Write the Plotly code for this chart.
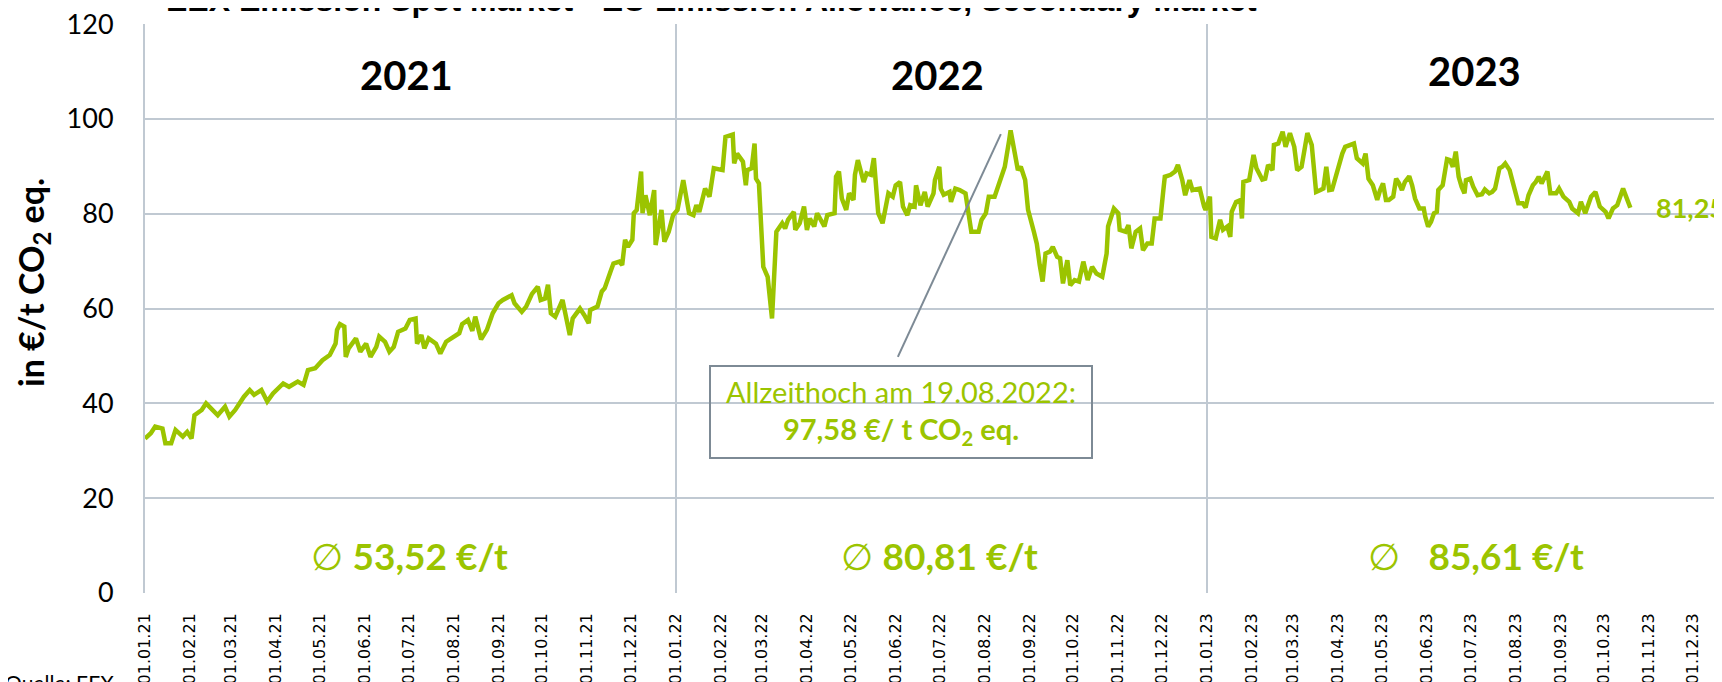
import plotly.graph_objects as go

# ---------------- data ----------------
days_2021 = ["01-01","01-05","01-08","01-13","01-15","01-19","01-22","01-27","01-30",
             "02-02","02-04","02-09","02-12","02-20","02-25","02-28",
             "03-04","03-10","03-14","03-17","03-22","03-26","03-30",
             "04-06","04-10","04-16","04-20","04-23","04-28",
             "05-03","05-08","05-12","05-13","05-15","05-18","05-19","05-21","05-26","05-29",
             "06-02","06-05","06-09","06-11","06-15","06-18","06-21","06-24","06-29",
             "07-02","07-06","07-07","07-10","07-12","07-15","07-20","07-23","07-27",
             "08-01","08-05","08-07","08-11","08-14","08-16","08-20","08-24","08-28",
             "09-01","09-04","09-10","09-12","09-17","09-20","09-24","09-28","09-30",
             "10-03","10-05","10-07","10-10","10-15","10-17","10-20","10-22","10-27","10-30",
             "11-02","11-03","11-08","11-11","11-13","11-17","11-19","11-23","11-25","11-27","11-29",
             "12-02","12-03","12-05","12-08","12-09","12-11","12-14","12-17","12-18","12-22","12-24","12-27","12-30"]
eur_2021 = [32.6,33.7,35.1,34.7,31.6,31.6,34.4,33.0,34.0,
            32.6,37.5,38.6,40.0,37.5,39.3,37.2,
            38.6,41.4,42.8,41.8,42.8,40.4,42.1,
            44.2,43.5,44.6,43.9,47.0,47.4,
            49.1,50.2,52.6,55.5,56.7,56.2,49.8,51.6,53.7,50.9,
            52.6,49.8,51.9,54.1,53.0,50.9,51.9,55.1,55.8,
            57.6,57.9,52.6,54.4,51.6,53.7,52.6,50.5,53.0,
            54.1,54.8,56.7,57.6,55.3,58.3,53.5,55.5,59.0,
            61.1,61.8,62.8,61.1,59.3,60.4,63.1,64.6,61.8,
            62.1,65.0,59.0,58.3,61.8,59.0,54.4,57.9,60.0,58.6,
            56.9,59.7,60.4,63.6,64.3,67.8,69.5,69.9,69.2,74.5,73.0,
            74.5,80.1,80.8,88.9,80.1,83.9,79.7,85.0,73.4,80.8,74.1,76.2,79.7]

days_2022 = ["01-02","01-06","01-10","01-13","01-15","01-17","01-21","01-24","01-27",
             "02-02","02-04","02-09","02-10","02-12","02-16","02-18","02-19","02-22","02-24","02-25","02-27",
             "03-02","03-05","03-08","03-10","03-11","03-15","03-17","03-19","03-23","03-24","03-27","03-30",
             "04-01","04-03","04-06","04-08","04-13","04-15","04-20","04-21","04-23","04-25","04-28","04-30",
             "05-03","05-04","05-06","05-10","05-12","05-15","05-17","05-19","05-20","05-23","05-25","05-27","05-30",
             "06-01","06-04","06-06","06-09","06-11","06-14","06-15","06-18","06-21","06-23","06-27","06-28",
             "07-01","07-02","07-04","07-08","07-09","07-12","07-15","07-19","07-22","07-23","07-28","07-30",
             "08-02","08-04","08-08","08-10","08-13","08-15","08-18","08-19","08-24","08-26","08-29","08-31",
             "09-04","09-06","09-08","09-10","09-12","09-15","09-17","09-20","09-22","09-24","09-27","09-29",
             "10-02","10-05","10-08","10-11","10-14","10-17","10-21","10-24","10-25","10-29",
             "11-01","11-02","11-06","11-08","11-10","11-13","11-16","11-18","11-21","11-24","11-26","11-30",
             "12-02","12-03","12-07","12-10","12-12","12-15","12-17","12-20","12-22","12-27","12-30","12-31"]
eur_2022 = [80.8,87.1,80.1,79.7,81.8,80.4,85.3,83.6,89.6,
            89.2,96.2,96.7,90.6,92.7,91.0,86.0,89.2,89.6,94.8,87.4,86.4,
            68.8,66.7,57.9,73.7,76.2,78.0,76.9,78.7,80.4,76.6,78.0,81.5,
            76.6,79.0,77.3,80.1,77.3,79.7,80.1,87.8,88.9,83.2,80.8,84.3,
            82.9,88.2,91.3,86.7,88.5,88.2,91.7,84.0,80.1,78.0,81.5,84.3,83.6,
            86.0,86.7,81.5,79.7,81.8,81.5,86.0,81.8,84.6,81.5,84.3,87.1,
            89.9,85.3,84.0,84.6,82.5,85.3,85.0,84.3,78.0,76.2,76.2,78.7,
            80.1,83.6,83.6,85.3,87.8,89.9,95.5,97.58,89.2,89.9,87.1,80.8,
            76.2,73.7,69.2,65.7,71.6,72.0,73.0,70.9,70.6,65.3,70.2,64.9,
            66.0,65.7,69.9,66.0,68.8,67.4,66.7,71.6,77.3,81.1,
            80.1,76.6,76.2,77.6,72.7,76.2,76.9,72.3,73.7,73.7,79.0,79.0,
            85.0,87.8,88.2,88.9,90.3,87.1,83.9,87.1,85.0,85.3,81.5,80.8]

days_2023 = ["01-03","01-04","01-07","01-10","01-12","01-15","01-17","01-18","01-21","01-24","01-25","01-26","01-30",
             "02-02","02-04","02-08","02-10","02-12","02-15","02-16","02-19","02-22","02-24","02-27",
             "03-02","03-04","03-07","03-09","03-11","03-14","03-17","03-20","03-22","03-24","03-26","03-28","03-31",
             "04-04","04-06","04-12","04-14","04-18","04-20","04-22","04-25","04-28","04-30",
             "05-02","05-04","05-06","05-09","05-11","05-13","05-15","05-17","05-20","05-22","05-24","05-27","05-30","05-31",
             "06-02","06-04","06-06","06-08","06-09","06-12","06-15","06-17","06-19","06-21","06-23","06-25","06-27","06-28",
             "07-01","07-03","07-06","07-09","07-11","07-14","07-16","07-18","07-21","07-23","07-25","07-28","07-30",
             "08-01","08-03","08-06","08-08","08-10","08-13","08-15","08-17","08-19","08-23","08-25","08-29","08-31",
             "09-03","09-07","09-09","09-13","09-15","09-18","09-22","09-25","09-28",
             "10-02","10-04","10-07","10-10","10-14","10-16","10-19"]
eur_2023 = [83.6,75.1,74.8,78.7,76.6,77.3,75.1,80.4,82.5,82.9,79.0,86.7,87.1,
            92.4,89.6,87.2,87.4,90.3,89.2,94.5,94.8,97.3,94.1,97.0,
            94.1,89.2,89.9,94.1,97.0,94.5,84.6,85.0,85.3,89.9,85.0,85.1,88.5,
            92.7,94.1,94.8,91.7,90.6,92.7,87.4,86.0,82.9,85.0,
            86.4,82.9,82.9,83.6,87.4,86.4,85.0,86.7,87.9,86.0,83.2,81.1,81.1,79.4,
            77.3,78.3,80.1,80.4,85.0,86.0,91.5,91.3,89.9,93.1,87.8,85.7,84.3,87.1,
            87.4,85.7,83.9,84.1,85.1,84.3,84.6,85.3,89.6,89.9,90.6,89.2,87.1,
            85.0,82.2,82.2,81.3,83.9,86.0,86.7,87.8,86.4,88.9,84.3,84.3,85.3,
            83.6,82.5,81.1,80.1,82.5,80.1,83.6,84.6,81.5,
            80.4,79.0,81.1,81.8,85.3,83.6,81.25]

year_labels = ["2021", "2022", "2023"]
year_label_x = ["2021-06-30", "2022-06-30", "2023-07-04"]
year_label_y = [109.2, 109.3, 110.1]
avg_texts = ["∅ <b>53,52 €/t</b>", "∅ <b>80,81 €/t</b>", "∅   <b>85,61 €/t</b>"]
avg_x = ["2021-07-02", "2022-07-01", "2023-07-05"]
avg_y = [7.9, 7.9, 7.9]
year_dividers = ["2022-01-01", "2023-01-01"]
peak_label = "Allzeithoch am 19.08.2022:<br><b>97,58 €/ t CO<sub>2</sub> eq.</b>"
last_label = "81,25"
title_text = "EEX Emission Spot Market - EU Emission Allowance, Secondary Market"
y_title = "in €/t CO<sub>2</sub> eq."
source_text = "Quelle: EEX"

for d, v in ((days_2021, eur_2021), (days_2022, eur_2022), (days_2023, eur_2023)):
    assert len(d) == len(v)

dates = (["2021-" + d for d in days_2021] + ["2022-" + d for d in days_2022]
         + ["2023-" + d for d in days_2023])
values = eur_2021 + eur_2022 + eur_2023

# ---------------- styling ----------------
GREEN = "#9BC400"
GRID = "#C0C9D2"
BOXGRAY = "#7D8A95"
OFF = 8                      # page body margin of the html page
W, H = 1722 - OFF, 682 - OFF
ML, MR, MT = 145 - OFF, 0, 24 - OFF
MB = H - (593 - OFF)
PW, PH = W - ML - MR, H - MT - MB


def px_x(px):
    """screen pixel x -> paper fraction"""
    return (px - OFF - ML) / PW


def px_y(py):
    """screen pixel y -> paper fraction"""
    return (H - MB - (py - OFF)) / PH


fig = go.Figure()
fig.add_trace(go.Scatter(x=dates, y=values, mode="lines",
                         line=dict(color=GREEN, width=4.5), hoverinfo="skip",
                         showlegend=False))

shapes = []
for d in year_dividers:
    shapes.append(dict(type="line", xref="x", yref="y", x0=d, x1=d, y0=0, y1=120,
                       line=dict(color=GRID, width=2), layer="below"))
# connector from info box to the all-time high
shapes.append(dict(type="line", xref="x", yref="y",
                   x0="2022-06-02 12:00", y0=49.8, x1="2022-08-12 07:00", y1=96.8,
                   line=dict(color=BOXGRAY, width=2)))

annotations = []
for t, x, y in zip(year_labels, year_label_x, year_label_y):
    annotations.append(dict(text=t, x=x, y=y, xref="x", yref="y", showarrow=False,
                            xanchor="center", yanchor="middle",
                            font=dict(family="Lato", size=40, color="#000000", weight="bold")))
for t, x, y in zip(avg_texts, avg_x, avg_y):
    annotations.append(dict(text=t, x=x, y=y, xref="x", yref="y", showarrow=False,
                            xanchor="center", yanchor="middle",
                            font=dict(family="Lato", size=37, color=GREEN)))
annotations.append(dict(text=peak_label, x="2022-06-05", y=38.2, xref="x", yref="y",
                        showarrow=False, width=380, height=90, borderpad=0,
                        xanchor="center", yanchor="middle",
                        bordercolor=BOXGRAY, borderwidth=2,
                        font=dict(family="Lato", size=29, color=GREEN)))
annotations.append(dict(text=f"<b>{last_label}</b>", x=dates[-1], y=values[-1], xref="x", yref="y",
                        showarrow=False, xanchor="left", yanchor="middle", xshift=24,
                        font=dict(family="Lato", size=27, color=GREEN)))
annotations.append(dict(text=f"<b>{title_text}</b>", x=px_x(711), y=1, xref="paper", yref="paper",
                        xanchor="center", yanchor="middle", yshift=24.5, showarrow=False,
                        font=dict(family="Liberation Sans, Arial", size=32, color="#000000")))
annotations.append(dict(text=f"<b>{y_title}</b>", x=px_x(33), y=px_y(283), xref="paper", yref="paper",
                        xanchor="center", yanchor="middle",
                        textangle=-90, showarrow=False,
                        font=dict(family="Lato", size=34, color="#000000")))
annotations.append(dict(text=source_text, x=px_x(116), y=px_y(668), xref="paper", yref="paper",
                        xanchor="right", yanchor="top", showarrow=False,
                        font=dict(family="Lato", size=21, color="#000000")))

fig.update_layout(
    width=W, height=H, autosize=False,
    margin=dict(l=ML, r=MR, t=MT, b=MB, pad=0, autoexpand=False),
    paper_bgcolor="white", plot_bgcolor="white",
    shapes=shapes, annotations=annotations,
    xaxis=dict(type="date", range=["2021-01-01", "2023-12-21"], tick0="2021-01-01", dtick="M1",
               tickformat="%d.%m.%y", tickangle=-90, showgrid=False, zeroline=False,
               showline=False, ticks="", ticklabelstandoff=16, automargin=False,
               tickfont=dict(family="DejaVu Sans", size=16, color="#000000")),
    yaxis=dict(range=[0, 120.02], tickvals=[0, 20, 40, 60, 80, 100, 120],
               showgrid=True, gridcolor=GRID, gridwidth=2, automargin=False,
               zeroline=False, showline=True, linecolor=GRID, linewidth=2, ticks="",
               ticklabelstandoff=24, ticklabeloverflow="allow",
               tickfont=dict(family="Lato", size=27, color="#000000")),
)

fig.write_html("out.html", include_plotlyjs=True, config={"displayModeBar": False})
